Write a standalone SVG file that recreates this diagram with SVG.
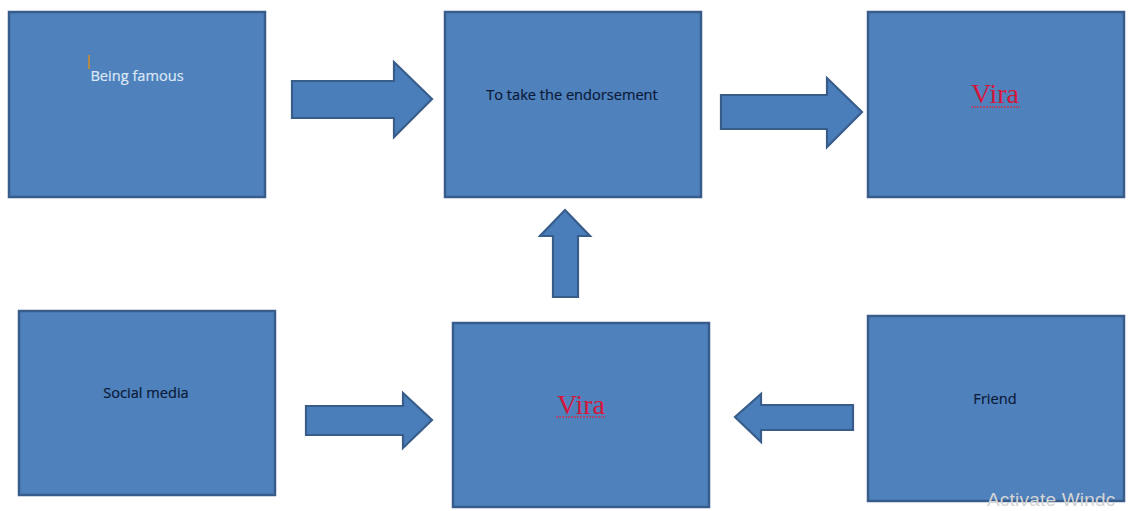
<svg xmlns="http://www.w3.org/2000/svg" width="1133" height="511" viewBox="0 0 1133 511">
<style>
.box{fill:#4f81bd;stroke:#385d8a;stroke-width:2.5}
.arr{fill:#4a7ebb;stroke:#385d8a;stroke-width:2.2;stroke-linejoin:miter}
.lbl{font-family:"Open Sans","Liberation Sans",sans-serif;font-size:14.6px;text-anchor:middle;fill:#0b1a38;stroke:#0b1a38;stroke-width:.2}
.vira{font-family:"Liberation Serif",serif;font-size:28px;text-anchor:middle;fill:#d5163a}
.sq{fill:none;stroke:#c0395a;stroke-width:1.4;stroke-dasharray:2 1}
</style>
<rect width="1133" height="511" fill="#ffffff"/>
<g id="connectors">
<polygon class="arr" points="292,81 394,81 394,62 432,99 394,137 394,118 292,118"/>
<polygon class="arr" points="721,95 827,95 827,78 862,112 827,147 827,129 721,129"/>
<polygon class="arr" points="553,297 553,236 540,236 565,210 590,236 578,236 578,297"/>
<polygon class="arr" points="306,406 403,406 403,393 432,420 403,448 403,435 306,435"/>
<polygon class="arr" points="853,405 761,405 761,394 735,417 761,442 761,430 853,430"/>
</g>
<g id="node-being-famous">
<rect class="box" x="9" y="12" width="256" height="185"/>
<rect x="88" y="55" width="2" height="14" fill="#b08a4a"/>
<text class="lbl" x="137" y="81" style="fill:#dce8f5;stroke:#dce8f5">Being famous</text>
</g>
<g id="node-endorsement">
<rect class="box" x="445" y="12" width="256" height="185"/>
<text class="lbl" x="572" y="100">To take the endorsement</text>
</g>
<g id="node-vira-top">
<rect class="box" x="868" y="12" width="256" height="185"/>
<text class="vira" x="995" y="103">Vira</text>
<line class="sq" x1="971" y1="107" x2="1020" y2="107"/>
</g>
<g id="node-social-media">
<rect class="box" x="19" y="311" width="256" height="184"/>
<text class="lbl" x="146" y="398">Social media</text>
</g>
<g id="node-vira-bottom">
<rect class="box" x="453" y="323" width="256" height="184"/>
<text class="vira" x="581" y="414">Vira</text>
<line class="sq" x1="556" y1="417" x2="605" y2="417"/>
</g>
<g id="node-friend">
<rect class="box" x="868" y="316" width="256" height="185"/>
<text class="lbl" x="995" y="404">Friend</text>
</g>
<text x="987" y="506" font-family="'Liberation Sans',sans-serif" font-size="19" letter-spacing="0.2" fill="#d4d4d4">Activate Windc</text>
</svg>
